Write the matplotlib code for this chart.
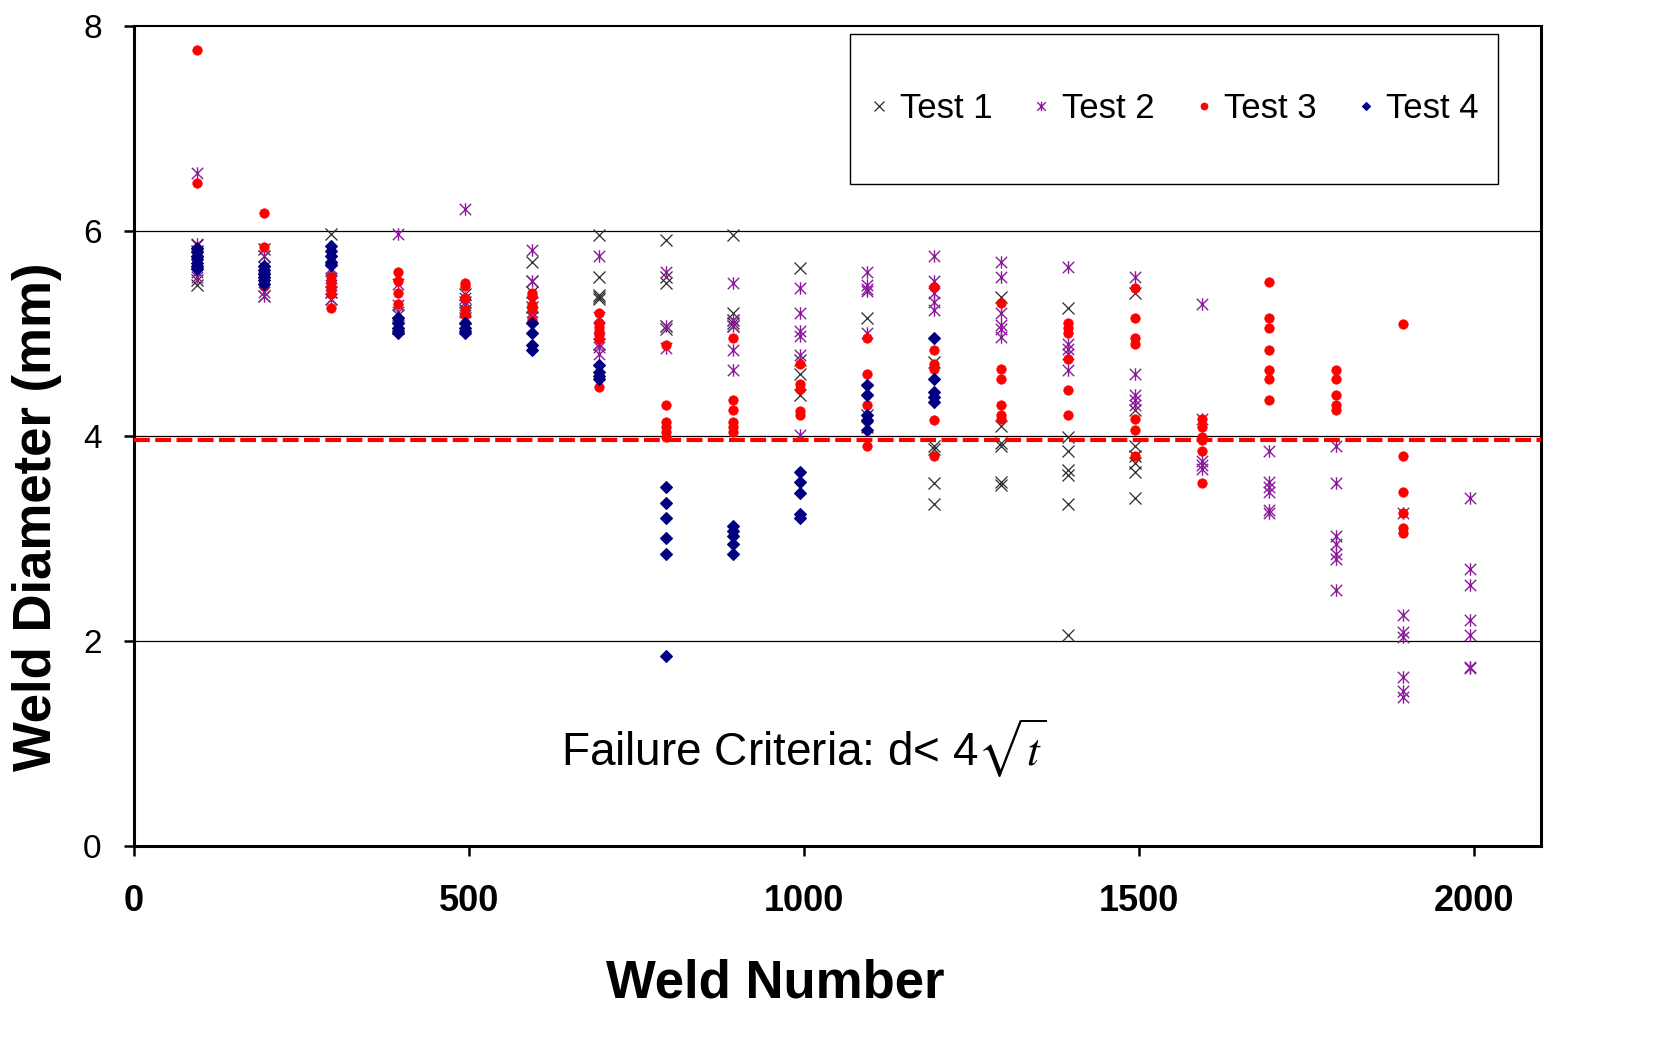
import matplotlib
matplotlib.use('Agg')
from matplotlib import pyplot as plt
from matplotlib.lines import Line2D
from matplotlib.patches import Rectangle
from matplotlib.path import Path

plt.rcParams['font.family'] = 'Liberation Sans'
plt.rcParams['mathtext.fontset'] = 'stix'

# weld numbers where each batch of welds was measured
welds = [94, 194, 294, 394, 494, 594, 694, 794, 894, 994,
         1094, 1194, 1294, 1394, 1494, 1594, 1694, 1794, 1894, 1994]

# weld diameters (mm) per test, one list per weld batch (empty = no data)
test1 = [
    [5.86, 5.80, 5.70, 5.52, 5.47],
    [5.82, 5.75, 5.65, 5.36],
    [5.97, 5.62, 5.40, 5.33],
    [5.18, 5.10, 5.05],
    [5.38, 5.31, 5.23, 5.15],
    [5.70, 5.51, 5.40, 5.26, 5.16],
    [5.96, 5.55, 5.37, 5.35, 5.33, 4.90],
    [5.91, 5.55, 5.49, 5.07, 5.04],
    [5.96, 5.20, 5.13, 5.10, 5.07],
    [5.64, 4.74, 4.60, 4.40],
    [5.15, 4.20, 4.09],
    [4.72, 3.90, 3.87, 3.54, 3.34],
    [5.35, 4.10, 3.93, 3.90, 3.55, 3.52],
    [5.25, 3.99, 3.85, 3.67, 3.62, 3.34, 2.06],
    [5.39, 4.25, 3.90, 3.80, 3.74, 3.65, 3.39],
    [], [], [], [], [],
]
test2 = [
    [6.56, 5.87, 5.80, 5.60, 5.55],
    [5.75, 5.60, 5.40, 5.36],
    [5.64, 5.54, 5.47, 5.40, 5.33],
    [5.97, 5.48, 5.28, 5.21],
    [6.21, 5.34, 5.28, 5.21],
    [5.81, 5.51, 5.31, 5.21],
    [5.75, 5.16, 5.05, 4.90, 4.87, 4.80],
    [5.60, 5.07, 4.86],
    [5.49, 5.13, 5.07, 4.84, 4.64],
    [5.44, 5.20, 5.02, 4.97, 4.79, 4.01],
    [5.60, 5.47, 5.43, 5.41, 5.00, 4.46],
    [5.75, 5.51, 5.39, 5.31, 5.23],
    [5.70, 5.55, 5.20, 5.08, 5.04, 4.96],
    [5.65, 4.90, 4.85, 4.80, 4.64],
    [5.55, 4.60, 4.40, 4.35, 4.30],
    [5.29, 4.16, 3.75, 3.72, 3.68],
    [3.85, 3.55, 3.50, 3.45, 3.28, 3.25],
    [3.90, 3.54, 3.02, 2.95, 2.85, 2.80, 2.50],
    [3.25, 2.25, 2.09, 2.04, 1.65, 1.51, 1.45],
    [3.39, 2.70, 2.55, 2.20, 2.06, 1.75, 1.74],
]
test3 = [
    [7.76, 6.47, 5.75, 5.70, 5.65],
    [6.17, 5.84, 5.50, 5.46],
    [5.75, 5.55, 5.50, 5.46, 5.42, 5.38, 5.25],
    [5.60, 5.51, 5.39, 5.29],
    [5.49, 5.46, 5.34, 5.23, 5.18, 5.10],
    [5.39, 5.36, 5.28, 5.24, 5.13],
    [5.20, 5.10, 5.06, 5.02, 4.98, 4.94, 4.48],
    [4.89, 4.30, 4.14, 4.09, 4.04, 3.99],
    [4.95, 4.35, 4.25, 4.14, 4.09, 4.04],
    [4.70, 4.51, 4.46, 4.24, 4.20],
    [4.95, 4.60, 4.30, 3.90],
    [5.45, 4.84, 4.70, 4.65, 4.15, 3.80],
    [5.30, 4.65, 4.55, 4.30, 4.20, 4.16],
    [5.10, 5.05, 5.00, 4.75, 4.45, 4.20],
    [5.44, 5.15, 4.95, 4.90, 4.16, 4.06, 3.80],
    [4.16, 4.09, 3.99, 3.96, 3.85, 3.54],
    [5.50, 5.15, 5.05, 4.84, 4.64, 4.55, 4.35],
    [4.64, 4.55, 4.40, 4.30, 4.25],
    [5.09, 3.80, 3.45, 3.25, 3.10, 3.05],
    [],
]
test4 = [
    [5.83, 5.79, 5.75, 5.72, 5.69, 5.66, 5.63],
    [5.66, 5.62, 5.58, 5.55, 5.52, 5.48],
    [5.85, 5.80, 5.75, 5.70, 5.67],
    [5.15, 5.10, 5.05, 5.02, 5.00],
    [5.10, 5.05, 5.02, 5.00],
    [5.10, 5.00, 4.89, 4.84],
    [4.69, 4.62, 4.58, 4.55],
    [3.50, 3.35, 3.20, 3.00, 2.85, 1.85],
    [3.12, 3.07, 3.02, 2.95, 2.85],
    [3.65, 3.55, 3.44, 3.24, 3.20],
    [4.50, 4.40, 4.20, 4.15, 4.06],
    [4.95, 4.55, 4.43, 4.38, 4.33],
    [], [], [], [], [], [], [], [],
]

failure_limit = 3.96

# excel style star: an x with a vertical bar through it
star = Path([(-1, -1), (1, 1), (-1, 1), (1, -1), (0, -1.1), (0, 1.1)],
            [Path.MOVETO, Path.LINETO, Path.MOVETO, Path.LINETO, Path.MOVETO, Path.LINETO])

tests = [
    ('Test 1', test1, dict(marker='x', color='#2b2b2b', ms=9, mew=0.9)),
    ('Test 2', test2, dict(marker=star, color='#8B1A9B', ms=9, mew=1.0)),
    ('Test 3', test3, dict(marker='o', color='#FF0000', ms=6.8, mew=0.5)),
    ('Test 4', test4, dict(marker='D', color='#000080', ms=5.8, mew=0.8)),
]


def flatten(groups):
    xs, ys = [], []
    for w, vals in zip(welds, groups):
        for v in vals:
            xs.append(w)
            ys.append(v)
    return xs, ys


fig = plt.figure(figsize=(16.77, 10.49), dpi=100)
ax = fig.add_axes([0.0797, 0.1935, 0.8394, 0.782])

for gy in [2, 4, 6]:
    ax.axhline(gy, color='black', lw=0.9, zorder=1)

handles = []
for name, groups, style in tests:
    xs, ys = flatten(groups)
    ax.plot(xs, ys, ls='none', marker=style['marker'], color=style['color'],
            ms=style['ms'], mew=style['mew'], zorder=3)
    handles.append(Line2D([], [], ls='none', marker=style['marker'], color=style['color'],
                          ms=style['ms'] * 0.75, mew=style['mew'], label=name))

ax.axhline(failure_limit, color='#FF0000', lw=3, dashes=(3.8, 1.3), zorder=4)

ax.set_xlim(0, 2100)
ax.set_ylim(0, 8)
ax.set_xticks([0, 500, 1000, 1500, 2000])
ax.set_yticks([0, 2, 4, 6, 8])

for side in ['left', 'bottom', 'right', 'top']:
    ax.spines[side].set_linewidth(2.2)
ax.spines['top'].set_linewidth(1.5)

ax.tick_params(axis='x', direction='out', length=7, width=1.8, pad=20, labelsize=26)
ax.tick_params(axis='y', direction='out', length=7, width=1.8, pad=16, labelsize=24)
for lbl in ax.get_xticklabels():
    lbl.set_fontweight('bold')

ax.set_xlabel('Weld Number', fontsize=38, fontweight='bold', va='center')
ax.xaxis.set_label_coords(0.456, -0.168)
ax.set_ylabel('Weld Diameter (mm)', fontsize=38, fontweight='bold', va='center')
ax.yaxis.set_label_coords(-0.069, 0.402)

ax.text(1000, 0.95, r'Failure Criteria: d< 4$\sqrt{t}$', fontsize=33,
        ha='center', va='center')

# legend box
ax.add_patch(Rectangle((0.509, 0.807), 0.46, 0.183, transform=ax.transAxes,
                       facecolor='white', edgecolor='black', lw=1.0, zorder=5))
ax.legend(handles=handles, loc='center', bbox_to_anchor=(0.739, 0.8985),
          ncol=4, frameon=False, fontsize=25, handlelength=0.6,
          handletextpad=0.3, columnspacing=1.1, borderaxespad=0).set_zorder(6)

fig.savefig('out.png', dpi=100)
